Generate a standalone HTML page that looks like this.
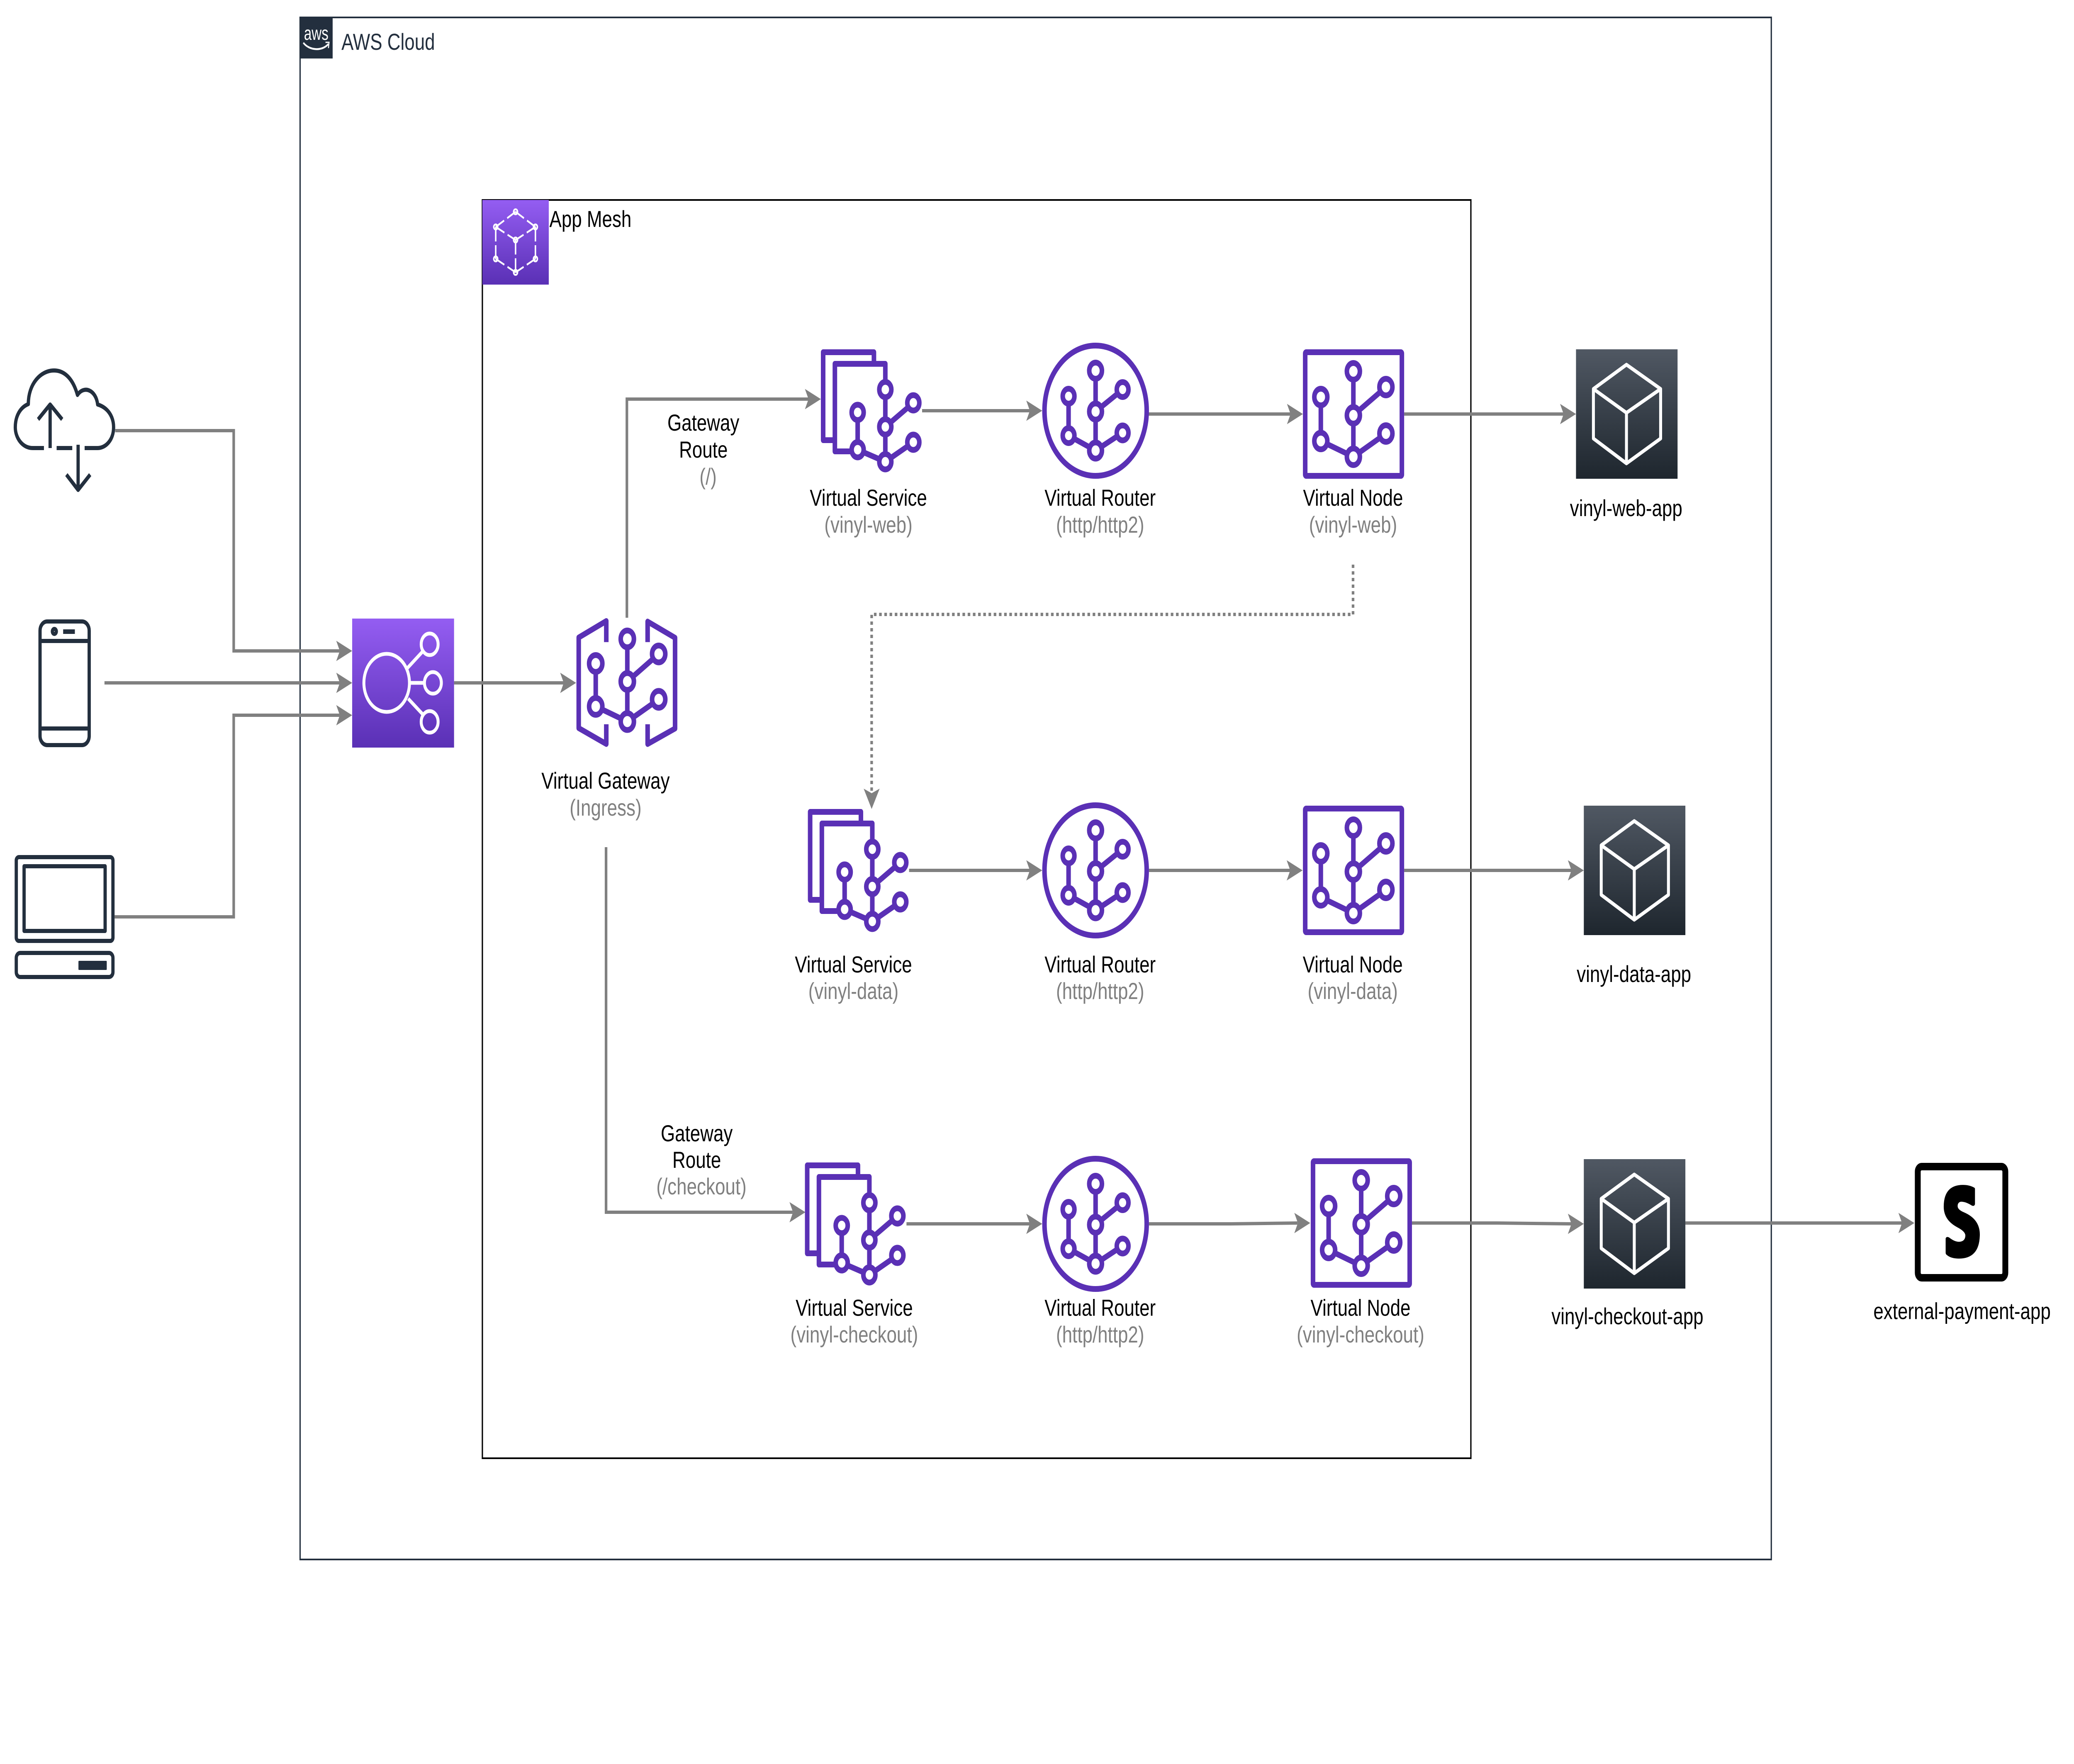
<!DOCTYPE html>
<html><head><meta charset="utf-8"><title>AWS App Mesh diagram</title>
<style>
html,body{margin:0;padding:0;background:#fff;width:100%;height:100%;overflow:hidden}
svg{display:block;position:absolute;left:0;top:0;width:100vw;height:100vh}
text{font-family:"Liberation Sans",Arial,sans-serif;font-size:56px;fill:#000}
.c{text-anchor:middle}
.g{fill:#808080}
.ln{fill:none;stroke:#808080;stroke-width:8}
.ah{fill:#808080}
.p{fill:none;stroke:#5A30B5;stroke-width:14;stroke-linejoin:round}
.r{fill:#fff;stroke:#5A30B5;stroke-width:14}
.d{fill:none;stroke:#232F3E;stroke-width:10;stroke-linejoin:round}
.w{fill:none;stroke:#fff;stroke-width:9}
.m{fill:none;stroke:#fff;stroke-width:4.5}
</style></head><body>
<svg xmlns="http://www.w3.org/2000/svg" viewBox="0 0 6372 4252" preserveAspectRatio="none">
<defs>
<linearGradient id="pg" x1="0" y1="0" x2="0" y2="1"><stop offset="0" stop-color="#945DF2"/><stop offset="1" stop-color="#5A30B5"/></linearGradient>
<linearGradient id="dg" x1="0" y1="0" x2="0" y2="1"><stop offset="0" stop-color="#505863"/><stop offset="1" stop-color="#1E262E"/></linearGradient>
<polygon id="ah" class="ah" points="0,0 -49,-24.5 -38,0 -49,24.5"/>
<g id="service">
<path class="p" d="M2685 877V849H2529V1061H2565" fill="#fff"/>
<path class="p" d="M2720 939V877H2565V1088H2635"/>
<path class="p" stroke-width="13" d="M2635 994V1084L2720 1113M2720 939V1113M2720 1029L2806 971M2720 1113L2806 1066"/>
<circle class="r" cx="2720" cy="939" r="18.5"/><circle class="r" cx="2720" cy="1029" r="18.5"/><circle class="r" cx="2720" cy="1113" r="18.5"/>
<circle class="r" cx="2635" cy="994" r="18.5"/><circle class="r" cx="2635" cy="1084" r="18.5"/>
<circle class="r" cx="2806" cy="971" r="18.5"/><circle class="r" cx="2806" cy="1066" r="18.5"/>
</g>
<g id="router">
<circle class="r" cx="3366" cy="990" r="157" stroke-width="15"/>
<path class="p" d="M3283 955V1050L3366 1086M3366 893V1086M3366 992L3449 939M3366 1086L3449 1043"/>
<circle class="r" cx="3366" cy="893.5" r="19.5"/><circle class="r" cx="3366" cy="992" r="19.5"/><circle class="r" cx="3366" cy="1086" r="19.5"/>
<circle class="r" cx="3283" cy="955" r="18"/><circle class="r" cx="3283" cy="1050" r="18"/>
<circle class="r" cx="3449" cy="939" r="18"/><circle class="r" cx="3449" cy="1043.5" r="18"/>
</g>
<g id="vnode">
<rect x="4010" y="849" width="297" height="298" rx="3" fill="#fff" stroke="#5A30B5" stroke-width="14"/>
<path class="p" d="M4058 957V1063L4158 1101M4158 895V1101M4158 1001L4258 933M4158 1101L4258 1045"/>
<circle class="r" cx="4158" cy="895" r="20"/><circle class="r" cx="4158" cy="1001" r="20"/><circle class="r" cx="4158" cy="1101" r="20"/>
<circle class="r" cx="4058" cy="957" r="20"/><circle class="r" cx="4058" cy="1063" r="20"/>
<circle class="r" cx="4258" cy="933" r="20"/><circle class="r" cx="4258" cy="1045" r="20"/>
</g>
<g id="ecs">
<rect x="4842" y="842" width="312" height="312" fill="url(#dg)"/>
<path class="w" stroke-linejoin="round" d="M4997 879L5102 937.5V1057L4997 1117L4895.5 1057V937.5ZM4895.5 937.5L4997 995L5102 937.5M4997 995V1117"/>
</g>
</defs>

<!-- containers -->
<rect x="922" y="42" width="4520" height="3717" fill="#fff" stroke="#232F3E" stroke-width="4"/>
<rect x="920" y="40" width="102" height="101" fill="#232F3E"/>
<text x="934" y="96" style="font-size:46px;fill:#fff" textLength="75" lengthAdjust="spacingAndGlyphs">aws</text>
<path d="M932 103C950 122 990 124 1009 106" fill="none" stroke="#fff" stroke-width="4.5"/>
<path d="M1000 102L1011 102L1009 116" fill="none" stroke="#fff" stroke-width="3"/>
<text x="1049" y="120" style="fill:#232F3E">AWS Cloud</text>

<rect x="1482" y="482" width="3037" height="3033" fill="#fff" stroke="#000" stroke-width="4"/>
<rect x="1482" y="482" width="204" height="204" fill="url(#pg)"/>
<g class="m">
<circle cx="1584" cy="510.5" r="6"/><circle cx="1523" cy="547" r="6"/><circle cx="1645" cy="547" r="6"/><circle cx="1584" cy="578.5" r="6"/><circle cx="1523" cy="624" r="6"/><circle cx="1645" cy="624" r="6"/><circle cx="1584" cy="656.5" r="6"/>
<path stroke-dasharray="30 11 30" d="M1584 510.5L1523 547M1584 510.5L1645 547M1523 547L1584 578.5M1645 547L1584 578.5M1523 624L1584 656.5M1645 624L1584 656.5"/>
<path stroke-dasharray="35 9 35" d="M1523 547V624M1645 547V624M1584 578.5V656.5"/>
</g>
<text x="1688" y="547">App Mesh</text>

<!-- connectors -->
<path class="ln" d="M354 1038H718V1569H1044"/><use href="#ah" x="1082" y="1569"/>
<path class="ln" d="M321 1646H1044"/><use href="#ah" x="1082" y="1646"/>
<path class="ln" d="M352 2210H718V1724H1044"/><use href="#ah" x="1082" y="1724"/>
<path class="ln" d="M1395 1646H1732"/><use href="#ah" x="1770" y="1646"/>
<path class="ln" d="M1926 1489V962H2484"/><use href="#ah" x="2522" y="962"/>
<path class="ln" d="M1862 2042V2922H2436"/><use href="#ah" x="2474.5" y="2922"/>
<path class="ln" d="M2833 990H3164"/><use href="#ah" x="3202" y="990"/>
<path class="ln" d="M3529 998H3965"/><use href="#ah" x="4003" y="998"/>
<path class="ln" d="M4314 998H4804"/><use href="#ah" x="4842" y="998"/>
<path class="ln" stroke-dasharray="8 8" d="M4157 1361V1481H2678V1912"/><use href="#ah" transform="translate(2678 1950) rotate(90)"/>
<path class="ln" d="M2793 2098H3164"/><use href="#ah" x="3202" y="2098"/>
<path class="ln" d="M3530 2098H3964"/><use href="#ah" x="4002" y="2098"/>
<path class="ln" d="M4314 2098H4828"/><use href="#ah" x="4866" y="2098"/>
<path class="ln" d="M2785 2950H3164"/><use href="#ah" x="3202" y="2950"/>
<path class="ln" d="M3530 2950H3780L3987 2948"/><use href="#ah" x="4025.5" y="2948"/>
<path class="ln" d="M4338 2948H4600L4828 2950"/><use href="#ah" x="4866" y="2950"/>
<path class="ln" d="M5178 2948H5844"/><use href="#ah" x="5881.6" y="2948"/>

<!-- clients -->
<path class="d" d="M135 1080H101C68 1080 47 1055 47 1030C47 1003 62 982 87 974C87 925 125 893 166 893C200 893 225 915 238 952C258 928 295 940 300 975C330 982 349 1003 349 1030C349 1060 325 1080 300 1080H260M174 1080H222"/>
<path class="d" d="M154 1080V975M117 1011L154 975L191 1011M240 1072V1181M204 1144L240 1181L277 1144"/>
<rect class="d" x="123" y="1498" width="151" height="298" rx="22"/>
<path class="d" d="M123 1545H274M123 1756H274"/>
<circle class="d" stroke-width="6" cx="167" cy="1522" r="6"/>
<rect x="194" y="1517" width="36" height="11" fill="#232F3E"/>
<rect class="d" x="50" y="2066" width="297" height="202" rx="8"/>
<rect class="d" x="74" y="2088" width="249" height="156"/>
<rect class="d" x="50" y="2297" width="297" height="58" rx="12"/>
<rect x="241" y="2316" width="87" height="22" rx="2" fill="#232F3E"/>

<!-- NLB -->
<rect x="1082" y="1491" width="313" height="311" fill="url(#pg)"/>
<g fill="none" stroke="#fff" stroke-width="9">
<ellipse cx="1188" cy="1646" rx="70" ry="70"/>
<circle cx="1320" cy="1553" r="26"/><circle cx="1330" cy="1646" r="26"/><circle cx="1320" cy="1740" r="26"/>
<path d="M1252 1610L1299 1570M1261 1646H1304M1254 1684L1299 1722"/>
</g>

<!-- Virtual Gateway -->
<path class="p" d="M1862.7 1547.7V1497L1778 1536.7V1755L1862.7 1793.3V1745.7M1989.7 1547.7V1498.3L2074 1537.3V1756L1989.7 1793.3V1745.7"/>
<path class="p" stroke-width="13" d="M1830.3 1599.3V1702.7L1927.3 1739.3M1927.3 1540V1739.3M1927.3 1642.7L2023.7 1576.3M1927.3 1739.3L2023.7 1685.7"/>
<circle class="r" cx="1927.3" cy="1540" r="20.3"/><circle class="r" cx="1927.3" cy="1642.7" r="20.3"/><circle class="r" cx="1927.3" cy="1739.3" r="20.3"/>
<circle class="r" cx="1830.3" cy="1599.3" r="20.3"/><circle class="r" cx="1830.3" cy="1702.7" r="20.3"/>
<circle class="r" cx="2023.7" cy="1576.3" r="20.3"/><circle class="r" cx="2023.7" cy="1685.7" r="20.3"/>

<!-- mesh rows -->
<use href="#service"/>
<use href="#router"/>
<use href="#vnode"/>
<use href="#ecs"/>
<use href="#service" x="-40" y="1108"/>
<use href="#router" y="1108"/>
<use href="#vnode" y="1100"/>
<use href="#ecs" x="24" y="1100"/>
<use href="#service" x="-49" y="1960"/>
<use href="#router" y="1960"/>
<use href="#vnode" x="24" y="1950"/>
<use href="#ecs" x="24" y="1952"/>

<!-- external -->
<rect x="5892" y="2812" width="269" height="268" rx="12" fill="#fff" stroke="#000" stroke-width="18"/>
<path transform="translate(5600 2700) scale(.4924 .3827)" fill="#000" d="M950 432L950 530Q945 545 930 538Q890 512 860 514Q840 520 842 545Q845 565 880 580Q985 625 980 730Q975 872 850 872Q800 872 775 850Q767 845 767 835L767 745Q772 730 790 740Q825 768 855 766Q890 762 890 725Q888 700 840 675Q755 630 755 545Q755 408 875 408Q915 408 945 425Q950 428 950 432Z"/>

<!-- labels -->
<text class="c" x="1860.5" y="1901">Virtual Gateway</text>
<text class="c g" x="1860.5" y="1966">(Ingress)</text>
<text class="c" x="2161" y="1038">Gateway</text>
<text class="c" x="2161" y="1103">Route</text>
<text class="c g" x="2175.5" y="1168">(/)</text>
<text class="c" x="2140.6" y="2751">Gateway</text>
<text class="c" x="2140.6" y="2815">Route</text>
<text class="c g" x="2155" y="2879">(/checkout)</text>

<text class="c" x="2668" y="1219">Virtual Service</text>
<text class="c g" x="2668" y="1284">(vinyl-web)</text>
<text class="c" x="3380" y="1219">Virtual Router</text>
<text class="c g" x="3380" y="1284">(http/http2)</text>
<text class="c" x="4157" y="1219">Virtual Node</text>
<text class="c g" x="4157" y="1284">(vinyl-web)</text>
<text class="c" x="4996" y="1244">vinyl-web-app</text>

<text class="c" x="2622" y="2344">Virtual Service</text>
<text class="c g" x="2622" y="2408">(vinyl-data)</text>
<text class="c" x="3380" y="2344">Virtual Router</text>
<text class="c g" x="3380" y="2408">(http/http2)</text>
<text class="c" x="4156" y="2344">Virtual Node</text>
<text class="c g" x="4156" y="2408">(vinyl-data)</text>
<text class="c" x="5020" y="2367">vinyl-data-app</text>

<text class="c" x="2624.5" y="3171.5">Virtual Service</text>
<text class="c g" x="2624.5" y="3236">(vinyl-checkout)</text>
<text class="c" x="3380" y="3171.5">Virtual Router</text>
<text class="c g" x="3380" y="3236">(http/http2)</text>
<text class="c" x="4180" y="3171.5">Virtual Node</text>
<text class="c g" x="4180" y="3236">(vinyl-checkout)</text>
<text class="c" x="5000" y="3192">vinyl-checkout-app</text>
<text class="c" x="6028" y="3179.5">external-payment-app</text>
</svg>
</body></html>
